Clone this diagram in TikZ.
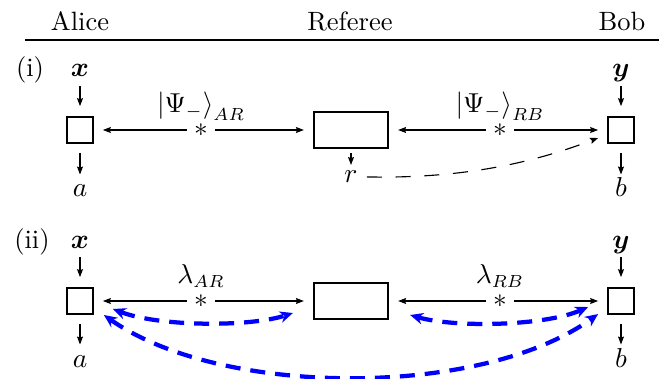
\documentclass[tikz,border=0pt]{standalone}
\usepackage{bm}
\usetikzlibrary{arrows.meta,calc}
\begin{document}
\begin{tikzpicture}[x=0.4pt,y=-0.4pt,
  font=\fontsize{10.6}{13}\selectfont,
  >={Stealth[length=3.2pt,width=2.4pt,inset=0.5pt]},
  box/.style={draw, line width=0.9pt, inner sep=0pt, minimum width=10.2pt, minimum height=10.2pt},
  refbox/.style={draw, line width=0.9pt, inner sep=0pt, minimum width=29.6pt, minimum height=14.4pt},
  lab/.style={inner sep=0pt, text height=7pt, text depth=2pt, anchor=base},
  starnode/.style={inner sep=2.7pt},
  conn/.style={line width=0.45pt, ->, shorten >=3.6pt},
  vin/.style={line width=0.45pt, ->, shorten <=1.5pt, shorten >=4pt},
  vout/.style={line width=0.45pt, ->, shorten <=3.6pt, shorten >=1.8pt},
  corr/.style={blue, line width=1.7pt, dash pattern=on 6pt off 4pt, {Stealth[length=5.2pt,width=4.6pt]}-{Stealth[length=5.2pt,width=4.6pt]}},
]
\useasboundingbox (0,0) rectangle (659,379);

% header
\node[anchor=base] (hA) at (80,31) {Alice};
\node[anchor=base] (hR) at (350,31) {Referee};
\node[anchor=base] (hB) at (622,31) {Bob};
\coordinate (rl) at (25,40);
\coordinate (rr) at (659,40);
\draw[line width=0.5pt] (rl) -- (rr);

% ---------- (i)
\node[anchor=base] (li) at (30,77) {(i)};
\node[lab] (x1) at (80,77) {$\bm{x}$};
\node[lab] (y1) at (621,77) {$\bm{y}$};
\node[box] (A1) at (80,130) {};
\node[refbox] (R1) at (351,130) {};
\node[box] (B1) at (621,130) {};
\node[lab] (a1) at (80,197) {$a$};
\node[lab] (b1) at (621,197) {$b$};
\node[lab] (r) at (351,183) {$r$};

\node[starnode] (S1) at (201,130) {$*$};
\node[starnode] (S2) at (500,130) {$*$};
\node[anchor=base] (L1) at (201,112) {$\left|\Psi_-\right\rangle_{AR}$};
\node[anchor=base] (L2) at (500,112) {$\left|\Psi_-\right\rangle_{RB}$};

\draw[vin] (x1) -- (A1);
\draw[vin] (y1) -- (B1);
\draw[vout] (A1) -- (a1);
\draw[vout] (B1) -- (b1);
\draw[line width=0.45pt, ->, shorten <=1.6pt] (R1) -- (r);
\draw[conn] (S1) -- (A1);
\draw[conn] (S1) -- (R1);
\draw[conn] (S2) -- (R1);
\draw[conn] (S2) -- (B1);
\draw[line width=0.45pt, dash pattern=on 6pt off 5.5pt, ->, shorten <=3.5pt]
  (r.east) .. controls (470,179) and (540,160) .. ($(B1.west)+(-9,8)$);

% ---------- (ii)
\node[anchor=base] (lii) at (32,248) {(ii)};
\node[lab] (x2) at (80,248) {$\bm{x}$};
\node[lab] (y2) at (621,248) {$\bm{y}$};
\node[box] (A2) at (80,301) {};
\node[refbox] (R2) at (351,301) {};
\node[box] (B2) at (621,301) {};
\node[lab] (a2) at (80,367) {$a$};
\node[lab] (b2) at (621,367) {$b$};

\node[starnode] (S3) at (201,301) {$*$};
\node[starnode] (S4) at (500,301) {$*$};
\node[anchor=base] (L3) at (201,283) {$\lambda_{AR}$};
\node[anchor=base] (L4) at (500,283) {$\lambda_{RB}$};

\draw[vin] (x2) -- (A2);
\draw[vin] (y2) -- (B2);
\draw[vout] (A2) -- (a2);
\draw[vout] (B2) -- (b2);
\draw[conn] (S3) -- (A2);
\draw[conn] (S3) -- (R2);
\draw[conn] (S4) -- (R2);
\draw[conn] (S4) -- (B2);

\draw[corr] ($(A2.east)+(19,8)$) .. controls (160,327) and (250,327) .. ($(R2.west)+(-20,12)$);
\draw[corr] ($(R2.east)+(21,14)$) .. controls (455,328) and (545,326) .. ($(B2.west)+(-19,6)$);
\draw[corr] ($(A2.east)+(10,14)$) .. controls (222,398) and (482,398) .. ($(B2.west)+(-9,13)$);
\end{tikzpicture}
\end{document}
